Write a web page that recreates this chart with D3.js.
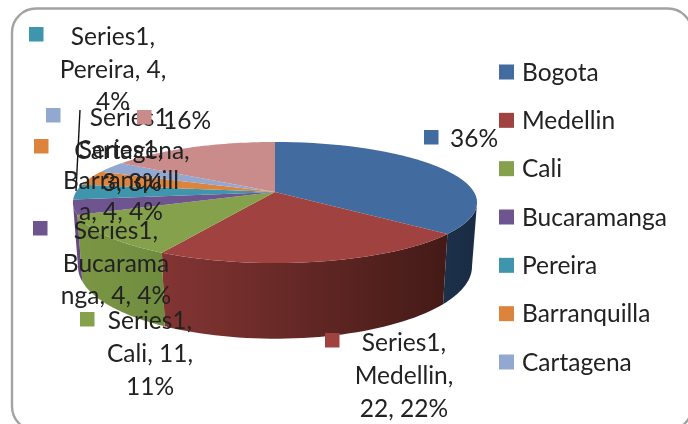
<!DOCTYPE html>
<html><head><meta charset="utf-8">
<script src="https://cdn.jsdelivr.net/npm/d3@7/dist/d3.min.js"></script>
<style>html,body{margin:0;padding:0;background:#fff;overflow:hidden}svg{display:block;filter:blur(.45px)}text{font-family:Lato,"Open Sans",sans-serif;fill:#222}</style>
</head><body><svg id="c" width="688" height="424"></svg>
<script>
// Data
const categories = ["Bogota","Medellin","Cali","Bucaramanga","Pereira","Barranquilla","Cartagena",""];
const values = [36,22,11,4,4,4,3,16];
const colors = ["#426b9f","#9f4240","#85a14b","#6f5590","#3f95ac","#dc843d","#92a8d0","#c98c8a"];
const wallFrom = ["#1c3049","#833533","#7b9744","#65497f","#3f95ac","#dc843d","#92a8d0","#c98c8a"];
const wallTo = ["#1a2c44","#431a17","#6f8b3f","#65497f","#3f95ac","#dc843d","#92a8d0","#c98c8a"];
const legendNames = categories.slice(0,7);
const labelLines = [["36%"],["Series1,","Medellin,","22, 22%"],["Series1,","Cali, 11,","11%"],
  ["Series1,","Bucarama","nga, 4, 4%"],["Series1,","Pereira, 4,","4%"],
  ["Series1,","Barranquill","a, 4, 4%"],["Series1,","Cartagena,","3, 3%"],["16%"]];

// Layout
const svg = d3.select("#c");
const k = 0.1736;            // perspective of the tilted disc
const top_ = {cx:275, cy:192, R:199, S:58.7};
const bot = {cx:275, cy:254, R:194, S:70};
const pt = (g,a)=>{const x=Math.sin(a),y=-Math.cos(a),w=1-k*y;return [g.cx+g.R*x/w,g.cy+g.S*y/w];};
const rim = (g,a0,a1)=>d3.range(0,41).map(i=>pt(g,a0+(a1-a0)*i/40));
const line = d3.line();
const pie = d3.pie().sort(null)(values);
const silhR = Math.PI-Math.acos(k), silhL = Math.PI+Math.acos(k);

svg.append("rect").attr("x",12).attr("y",8.5).attr("width",680).attr("height",422)
  .attr("rx",24).attr("fill","#fff").attr("stroke","#a3a3a3").attr("stroke-width",2.4);

const defs = svg.append("defs");
// side walls (front half only)
pie.forEach((d,i)=>{
  const a0=Math.max(d.startAngle,silhR), a1=Math.min(d.endAngle,silhL);
  if(a1<=a0) return;
  const t=rim(top_,a0,a1), b=rim(bot,a0,a1).reverse();
  const xs=t.concat(b).map(p=>p[0]);
  const g=defs.append("linearGradient").attr("id","w"+i).attr("gradientUnits","userSpaceOnUse")
    .attr("x1",d3.min(xs)).attr("x2",d3.max(xs)).attr("y1",0).attr("y2",0);
  g.append("stop").attr("offset",0).attr("stop-color",wallFrom[i]);
  g.append("stop").attr("offset",1).attr("stop-color",wallTo[i]);
  svg.append("path").attr("d",line(t.concat(b))+"Z").attr("fill",`url(#w${i})`);
});
// top face
pie.forEach((d,i)=>{
  const pts=[[top_.cx,top_.cy]].concat(rim(top_,d.startAngle,d.endAngle));
  svg.append("path").attr("d",line(pts)+"Z").attr("fill",colors[i]);
});
// leader line
svg.append("line").attr("x1",80).attr("y1",110).attr("x2",76).attr("y2",191).attr("stroke","#111").attr("stroke-width",1.4);

// data labels: [marker x, marker y, text centre x, first baseline, line step]
const labelPos = [[424,130,474,147,0],[325,333,404,351,33],[80,312,150,329,33],[33,221,116,239,32.5],
  [29,27,113,45,32.5],[34,139,121,158,31],[46,108,132,126,32.5],[137,110,187,129,0]];
const fs = 24.5;
labelLines.forEach((ls,i)=>{
  const p=labelPos[i];
  ls.forEach((s,j)=>svg.append("text").attr("x",p[2]).attr("y",p[3]+j*p[4]).attr("text-anchor","middle").attr("font-size",fs).text(s));
  svg.append("rect").attr("x",p[0]).attr("y",p[1]).attr("width",14.5).attr("height",14.5).attr("fill",colors[i]);
});
// legend
const ly = d3.scalePoint().domain(legendNames).range([72,362]);
legendNames.forEach((n,i)=>{
  svg.append("rect").attr("x",499).attr("y",ly(n)-7.5).attr("width",15).attr("height",15).attr("fill",colors[i]);
  svg.append("text").attr("x",522).attr("y",ly(n)+8.5).attr("font-size",fs).text(n);
});
</script></body></html>
